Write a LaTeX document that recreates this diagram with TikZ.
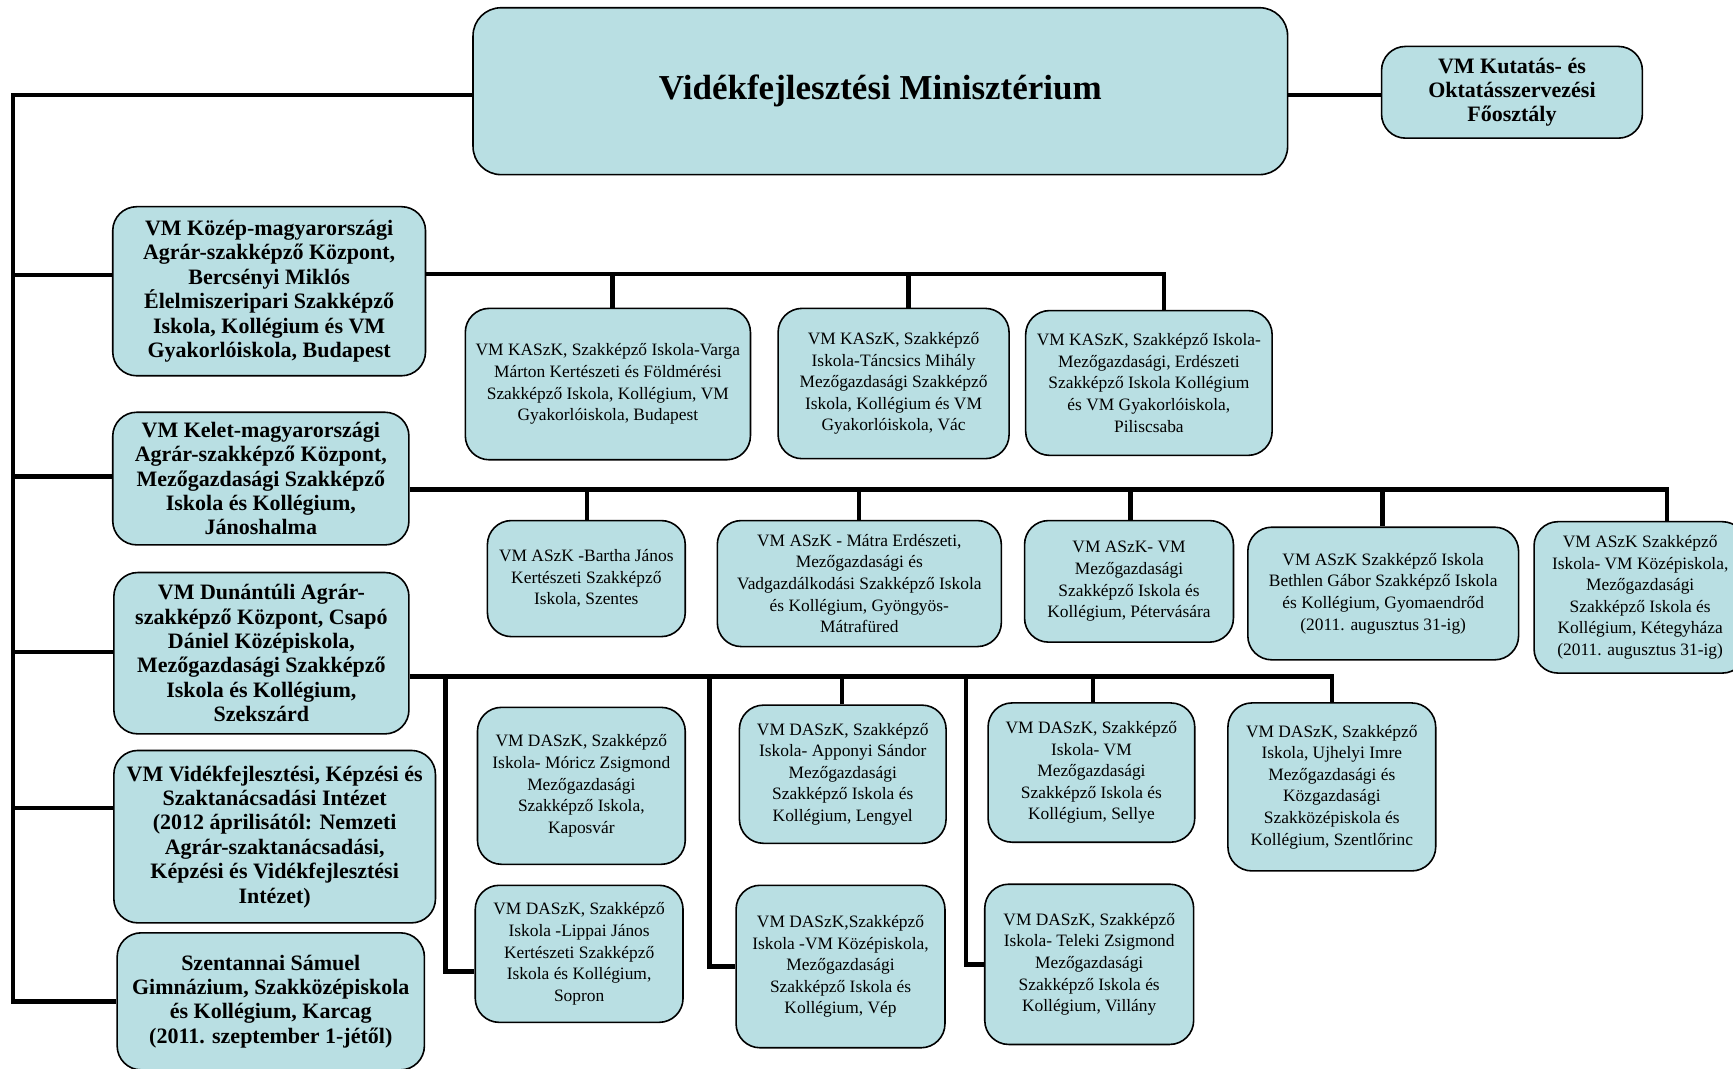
\documentclass[tikz,border=0pt]{standalone}
\usepackage{fontspec}
\setmainfont{Liberation Serif}
\usepackage{xcolor}
\usepackage{tikz}
\usetikzlibrary{positioning}
\definecolor{boxfill}{HTML}{B9DFE3}
\newlength\pxu
\setlength\pxu{0.5527pt}

\begin{document}
\begin{tikzpicture}[x=1\pxu, y=-1\pxu,
    orgbox/.style={draw=black, line width=0.8pt, fill=boxfill, rounded corners=12pt, align=center, inner sep=2pt},
    boxsize/.style 2 args={minimum width=#1\pxu, minimum height=#2\pxu},
    headbox/.style={orgbox, font=\bfseries\fontsize{11}{12.2}\selectfont},
    schoolbox/.style={orgbox, font=\fontsize{8.7}{10.8}\selectfont},
    bus/.style={line width=2.2pt}]
        \useasboundingbox (0,0) rectangle (1568,967);

        % Ministry
        \node[orgbox, rounded corners=14pt, boxsize={737}{151}, font=\bfseries\fontsize{17.5}{20}\selectfont] (ministry) at (796.5,82.5) {Vidékfejlesztési Minisztérium};
        \node[headbox, boxsize={236}{83}] (kutatas) at (1368,83.5) {VM Kutatás- és\\Oktatásszervezési\\Főosztály};

        % Centres on the left
        \node[headbox, boxsize={283}{153}] (kozep) at (243.5,263.5) {VM Közép-magyarországi\\Agrár-szakképző Központ,\\Bercsényi Miklós\\Élelmiszeripari Szakképző\\Iskola, Kollégium és VM\\Gyakorlóiskola, Budapest};
        \node[headbox, boxsize={268}{120}] (kelet) at (236,433) {VM Kelet-magyarországi\\Agrár-szakképző Központ,\\Mezőgazdasági Szakképző\\Iskola és Kollégium,\\Jánoshalma};
        \node[headbox, boxsize={267}{146}] (dunantul) at (236.5,591) {VM Dunántúli Agrár-\\szakképző Központ, Csapó\\Dániel Középiskola,\\Mezőgazdasági Szakképző\\Iskola és Kollégium,\\Szekszárd};
        \node[headbox, boxsize={291}{156}] (kepzesi) at (248.5,757) {VM Vidékfejlesztési, Képzési és\\Szaktanácsadási Intézet\\(2012 áprilisától: Nemzeti\\Agrár-szaktanácsadási,\\Képzési és Vidékfejlesztési\\Intézet)};
        \node[headbox, boxsize={278}{124}] (szentannai) at (245,906) {Szentannai Sámuel\\Gimnázium, Szakközépiskola\\és Kollégium, Karcag\\(2011. szeptember 1-jétől)};

        % KASzK schools
        \node[schoolbox, boxsize={258}{137}] (varga) at (550,347.5) {VM KASzK, Szakképző Iskola-Varga\\Márton Kertészeti és Földmérési\\Szakképző Iskola, Kollégium, VM\\Gyakorlóiskola, Budapest};
        \node[schoolbox, boxsize={209}{136}] (tancsics) at (808.5,347) {VM KASzK, Szakképző\\Iskola-Táncsics Mihály\\Mezőgazdasági Szakképző\\Iskola, Kollégium és VM\\Gyakorlóiskola, Vác};
        \node[schoolbox, boxsize={223}{131}] (piliscsaba) at (1039.5,346.5) {VM KASzK, Szakképző Iskola-\\Mezőgazdasági, Erdészeti\\Szakképző Iskola Kollégium\\és VM Gyakorlóiskola,\\Piliscsaba};

        % ASzK schools
        \node[schoolbox, boxsize={179}{105}] (bartha) at (530.5,523.5) {VM ASzK -Bartha János\\Kertészeti Szakképző\\Iskola, Szentes};
        \node[schoolbox, boxsize={257}{114}] (matra) at (777.5,528) {VM ASzK - Mátra Erdészeti,\\Mezőgazdasági és\\Vadgazdálkodási Szakképző Iskola\\és Kollégium, Gyöngyös-\\Mátrafüred};
        \node[schoolbox, boxsize={189}{110}] (petervasara) at (1021.5,526) {VM ASzK- VM\\Mezőgazdasági\\Szakképző Iskola és\\Kollégium, Pétervására};
        \node[schoolbox, boxsize={245}{120}] (gyoma) at (1251.5,537) {VM ASzK Szakképző Iskola\\Bethlen Gábor Szakképző Iskola\\és Kollégium, Gyomaendrőd\\(2011. augusztus 31-ig)};
        \node[schoolbox, boxsize={192}{137}] (ketegyhaza) at (1484,540.5) {VM ASzK Szakképző\\Iskola- VM Középiskola,\\Mezőgazdasági\\Szakképző Iskola és\\Kollégium, Kétegyháza\\(2011. augusztus 31-ig)};

        % DASzK schools
        \node[schoolbox, boxsize={188}{142}] (moricz) at (526,711) {VM DASzK, Szakképző\\Iskola- Móricz Zsigmond\\Mezőgazdasági\\Szakképző Iskola,\\Kaposvár};
        \node[schoolbox, boxsize={187}{125}] (apponyi) at (762.5,700.5) {VM DASzK, Szakképző\\Iskola- Apponyi Sándor\\Mezőgazdasági\\Szakképző Iskola és\\Kollégium, Lengyel};
        \node[schoolbox, boxsize={187}{126}] (sellye) at (987.5,699) {VM DASzK, Szakképző\\Iskola- VM\\Mezőgazdasági\\Szakképző Iskola és\\Kollégium, Sellye};
        \node[schoolbox, boxsize={188}{152}] (szentlorinc) at (1205,712) {VM DASzK, Szakképző\\Iskola, Ujhelyi Imre\\Mezőgazdasági és\\Közgazdasági\\Szakközépiskola és\\Kollégium, Szentlőrinc};
        \node[schoolbox, boxsize={188}{124}] (lippai) at (524,863) {VM DASzK, Szakképző\\Iskola -Lippai János\\Kertészeti Szakképző\\Iskola és Kollégium,\\Sopron};
        \node[schoolbox, boxsize={189}{147}] (vep) at (760.5,874.5) {VM DASzK,Szakképző\\Iskola -VM Középiskola,\\Mezőgazdasági\\Szakképző Iskola és\\Kollégium, Vép};
        \node[schoolbox, boxsize={189}{145}] (villany) at (985.5,872.5) {VM DASzK, Szakképző\\Iskola- Teleki Zsigmond\\Mezőgazdasági\\Szakképző Iskola és\\Kollégium, Villány};

        % Trunk
        \coordinate (trunk) at (12,906);
        \draw[bus] (ministry.west |- 0,86) -| (trunk) -- (szentannai.west);
        \draw[bus] (ministry.east |- 0,86) -- (kutatas.west |- 0,86);
        \foreach \n/\y in {kozep/249, kelet/431, dunantul/590, kepzesi/731}
            \draw[bus] (trunk |- 0,\y) -- (\n.west |- 0,\y);

        % Connections
        \draw[bus] (kozep.east |- 0,248) -| (piliscsaba.north -| 1053,0);
        \foreach \n/\x in {varga/554, tancsics/822}
            \draw[bus] (\n.north -| \x,0) -- (\x,248);
        \draw[bus] (kelet.east |- 0,443) -| (ketegyhaza.north -| 1508,0);
        \foreach \n/\x in {bartha/531, matra/777, petervasara/1023, gyoma/1251}
            \draw[bus] (\n.north -| \x,0) -- (\x,443);
        \draw[bus] (dunantul.east |- 0,612) -| (szentlorinc.north -| 1205,0);
        \foreach \n/\x in {apponyi/762, sellye/989}
            \draw[bus] (\n.north -| \x,0) -- (\x,612);
        \draw[bus] (403,612) |- (lippai.west |- 0,879);
        \draw[bus] (642,612) |- (vep.west);
        \draw[bus] (874,612) |- (villany.west);
    \end{tikzpicture}
\end{document}
